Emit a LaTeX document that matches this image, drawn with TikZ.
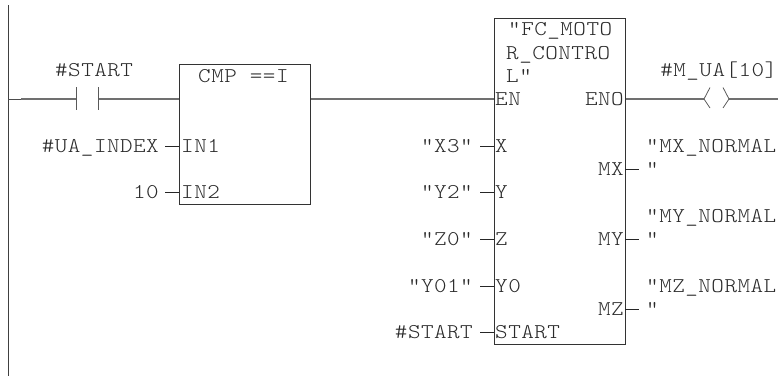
\documentclass[tikz,border=0pt]{standalone}
\usepackage{fontspec}
\newfontfamily\ladfont[FakeStretch=1.14,LetterSpace=2.3]{Latin Modern Mono Light}
\definecolor{ink}{HTML}{2A2A2A}
\definecolor{wire}{HTML}{707070}
\tikzset{
  txt/.style={inner sep=0pt,text=ink,font=\ladfont\fontsize{21}{21}\selectfont,anchor=base west},
  txtr/.style={txt,anchor=base east},
  rung/.style={draw=wire,line width=1.2pt},
  pin/.style={draw=black!85,line width=0.8pt},
  fblock/.style={draw=black!80,line width=1pt,fill=white},
  rail/.style={draw=black!75,line width=1pt},
  sym/.style={draw=black!65,line width=0.8pt}
}
\begin{document}
\begin{tikzpicture}[x=1pt,y=-1pt]
\useasboundingbox (0,0) rectangle (778,376);
% power rail and rung
\coordinate (railtop) at (8,5);
\coordinate (railbot) at (8,376);
\coordinate (railtap) at (8,99);
\coordinate (cl) at (76,99);
\coordinate (cr) at (98,99);
\coordinate (cmpin) at (178.5,99);
\coordinate (cmpout) at (310,99);
\coordinate (fcin) at (493.5,99);
\coordinate (fcout) at (625,99);
\coordinate (coill) at (704,99);
\coordinate (coilr) at (729,99);
\coordinate (rungend) at (778,99);
\draw[rail] (railtop) -- (railbot);
\draw[draw=black!70,line width=0.7pt] (railtap) -- (21,99);
\draw[rung] (21,99) -- (cl);
\draw[rung] (cr) -- (cmpin);
\draw[rung] (cmpout) -- (fcin);
\draw[rung] (fcout) -- (coill);
\draw[rung] (coilr) -- (rungend);
% contact
\draw[sym] (76,87) -- (76,110);
\draw[sym] (98,87) -- (98,110);
% coil
\draw[sym] (710,87.5) -- (704,99) -- (710,108);
\draw[sym] (723,87.5) -- (729,99) -- (723,108);
% blocks
\node[fblock,minimum width=131.5pt,minimum height=140pt,inner sep=0pt,anchor=north west] (cmp) at (178.5,64) {};
\node[fblock,minimum width=131.5pt,minimum height=326.5pt,inner sep=0pt,anchor=north west] (fc) at (493.5,17.5) {};
% pins
\foreach \n/\xa/\xb/\yy in {a/165/178.5/146,b/165/178.5/192,c/480/493.5/146,d/480/493.5/192,e/480/493.5/239,f/480/493.5/286,g/480/493.5/332,h/625/639/169,i/625/639/239,j/625/639/309}{
  \coordinate (p\n s) at (\xa,\yy);
  \coordinate (p\n e) at (\xb,\yy);
  \draw[pin] (p\n s) -- (p\n e);
}
% texts
\node[txt] (tstart) at (55,76) {\#START};
\node[txt] (tcmp) at (198,82) {CMP ==I};
\node[txtr] (tua) at (159,152) {\#UA\_INDEX};
\node[txtr] (t10) at (159,198) {10};
\node[txt] (tin1) at (181,152) {IN1};
\node[txt] (tin2) at (181,198) {IN2};
\node[txt] (tf1) at (508,35) {"FC\_MOTO};
\node[txt] (tf2) at (506,59) {R\_CONTRO};
\node[txt] (tf3) at (506,82) {L"};
\node[txt] (ten) at (495,105) {EN};
\node[txtr] (teno) at (624,105) {ENO};
\node[txt] (tx) at (495,152) {X};
\node[txt] (ty) at (495,198) {Y};
\node[txt] (tz) at (495,245) {Z};
\node[txt] (ty0) at (495,292) {Y0};
\node[txt] (tst) at (495,338) {START};
\node[txtr] (tmx) at (624,175) {MX};
\node[txtr] (tmy) at (624,245) {MY};
\node[txtr] (tmz) at (624,315) {MZ};
\node[txtr] (lx) at (473,152) {"X3"};
\node[txtr] (ly) at (473,198) {"Y2"};
\node[txtr] (lz) at (473,245) {"Z0"};
\node[txtr] (ly0) at (473,292) {"Y01"};
\node[txtr] (lst) at (473,338) {\#START};
\node[txtr] (tm) at (777.5,76) {\#M\_UA[10]};
\node[txt] (n1) at (646,152) {"MX\_NORMAL};
\node[txt] (n1b) at (646,175) {"};
\node[txt] (n2) at (646,222) {"MY\_NORMAL};
\node[txt] (n2b) at (646,245) {"};
\node[txt] (n3) at (646,292) {"MZ\_NORMAL};
\node[txt] (n3b) at (646,315) {"};
\end{tikzpicture}
\end{document}
